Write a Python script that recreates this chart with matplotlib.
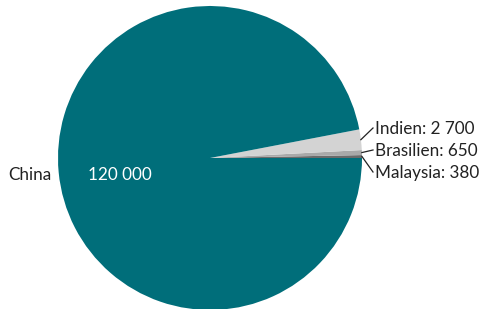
import matplotlib
matplotlib.use("Agg")
import matplotlib.pyplot as plt
import numpy as np

categories = ["Malaysia", "Brasilien", "Indien", "China"]
values = [380, 650, 2700, 120000]
value_labels = ["380", "650", "2 700", "120 000"]
colors = ["#6b6b6b", "#a9a9a9", "#d3d3d3", "#006e7a"]

plt.rcParams['font.family'] = ['Lato', 'DejaVu Sans']

fig = plt.figure(figsize=(4.8, 3.09), dpi=100)
ax = fig.add_axes([0, 0, 1, 1])

cx, cy, r = 210, 151, 152
wedges, _ = ax.pie(values, colors=colors, startangle=0, counterclock=True,
                   center=(cx, cy), radius=r, frame=True,
                   wedgeprops=dict(linewidth=0))
ax.set_xlim(0, 480)
ax.set_ylim(0, 309)
ax.set_aspect('equal')
ax.axis('off')

label_y = {"Malaysia": 136, "Brasilien": 158, "Indien": 180}
for w, cat, vl in zip(wedges[:3], categories[:3], value_labels[:3]):
    mid = np.deg2rad((w.theta1 + w.theta2) / 2)
    x0 = cx + r * np.cos(mid)
    y0 = cy + r * np.sin(mid)
    ty = label_y[cat]
    ax.plot([x0, 373], [y0, ty + 1], color="#222222", lw=0.9)
    ax.text(375, ty, f"{cat}: {vl}", ha='left', va='center', fontsize=12.3, color="#222222")

ax.text(8, 134, categories[3], ha='left', va='center', fontsize=12.3, color="#222222")
ax.text(120, 134, value_labels[3], ha='center', va='center', fontsize=12.3, color="white")

fig.savefig("out.png", dpi=100)
